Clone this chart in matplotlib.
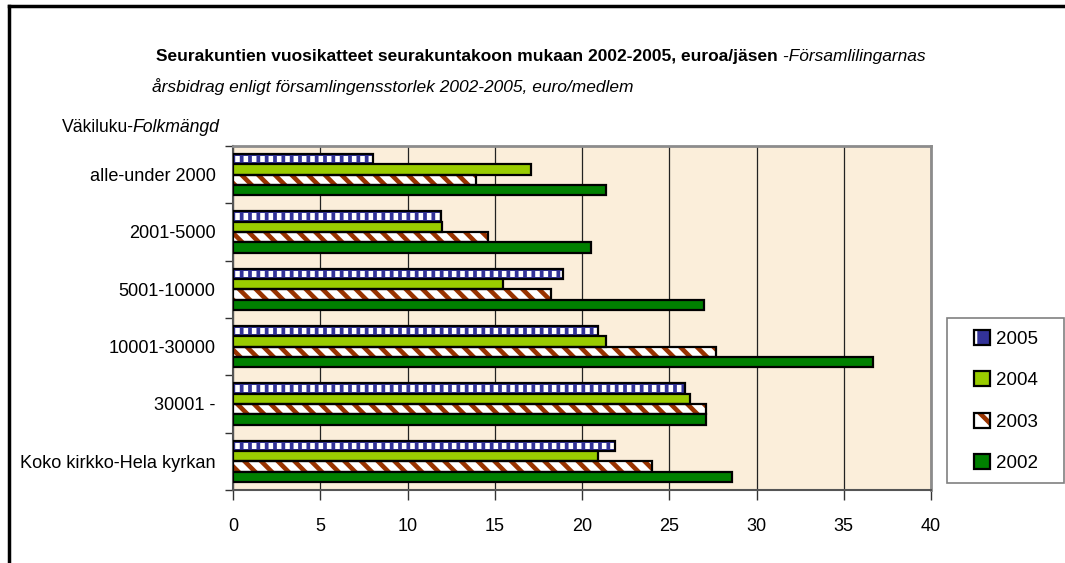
import matplotlib
matplotlib.use("Agg")
import matplotlib.pyplot as plt
import numpy as np
from matplotlib.patches import Patch, Rectangle
from matplotlib.lines import Line2D
from matplotlib import font_manager

# ---------------- data ----------------
categories = ["alle-under 2000", "2001-5000", "5001-10000", "10001-30000",
              "30001 -", "Koko kirkko-Hela kyrkan"]
series_years = ["2005", "2004", "2003", "2002"]
v2005 = [8.0, 11.9, 18.9, 20.9, 25.9, 21.9]
v2004 = [17.1, 12.0, 15.5, 21.4, 26.2, 20.9]
v2003 = [13.9, 14.6, 18.2, 27.7, 27.1, 24.0]
v2002 = [21.4, 20.5, 27.0, 36.7, 27.1, 28.6]
xticks = [0, 5, 10, 15, 20, 25, 30, 35, 40]
title_bold = "Seurakuntien vuosikatteet seurakuntakoon mukaan 2002-2005, euroa/jäsen"
title_ital1 = " -Församlilingarnas"
title_ital2 = "årsbidrag enligt församlingensstorlek 2002-2005, euro/medlem"
ylab_norm = "Väkiluku-"
ylab_ital = "Folkmängd"

# ---------------- fonts ----------------
names = {f.name for f in font_manager.fontManager.ttflist}
fam = "Liberation Sans Narrow" if "Liberation Sans Narrow" in names else "Liberation Sans"
plt.rcParams["font.family"] = [fam, "DejaVu Sans"]
plt.rcParams["hatch.linewidth"] = 3.3

NAVY = "#333399"
LGREEN = "#99CC00"
BROWN = "#993300"
DGREEN = "#008000"
BG = "#FBEEDA"

W, H = 1065, 563
fig = plt.figure(figsize=(W / 100, H / 100), dpi=100)
ax = fig.add_axes([233 / W, 1 - 490 / H, (931 - 233) / W, (490 - 146) / H])
ax.set_facecolor(BG)

y = np.arange(len(categories))
h = 0.18
offs = [-0.27, -0.09, 0.09, 0.27]
lw = 1.6

# 2005: navy with white squares
ax.barh(y + offs[0], v2005, height=h, color=NAVY, linewidth=0, zorder=3)
ax.barh(y + offs[0], v2005, height=h * 0.6, fill=False, hatch="||",
        edgecolor="white", linewidth=0, zorder=4)
ax.barh(y + offs[0], v2005, height=h, fill=False, edgecolor="black",
        linewidth=lw, zorder=5)
# 2004: light green
ax.barh(y + offs[1], v2004, height=h, color=LGREEN, edgecolor="black",
        linewidth=lw, zorder=5)
# 2003: white with brown diagonals
ax.barh(y + offs[2], v2003, height=h, color="white", linewidth=0, zorder=3)
ax.barh(y + offs[2], v2003, height=h, fill=False, hatch="\\\\",
        edgecolor=BROWN, linewidth=0, zorder=4)
ax.barh(y + offs[2], v2003, height=h, fill=False, edgecolor="black",
        linewidth=lw, zorder=5)
# 2002: dark green
ax.barh(y + offs[3], v2002, height=h, color=DGREEN, edgecolor="black",
        linewidth=lw, zorder=5)

ax.set_xlim(0, 40)
ax.set_ylim(len(categories) - 0.5, -0.5)
ax.set_xticks(xticks)
ax.set_xticklabels([str(t) for t in xticks], fontsize=13)
ax.tick_params(axis="x", direction="out", length=7, width=1, color="#333333", pad=13)
ax.set_yticks(np.arange(len(categories) + 1) - 0.5)
ax.set_yticklabels([])
ax.set_yticks(y, minor=True)
ax.set_yticklabels(categories, minor=True, fontsize=13.1)
ax.tick_params(axis="y", which="major", direction="out", length=6, width=1, color="#333333")
ax.tick_params(axis="y", which="minor", length=0, pad=12.5)
ax.grid(axis="x", color="#222222", linewidth=0.9, zorder=1)
ax.set_axisbelow(True)
for s in ["top", "right"]:
    ax.spines[s].set_color("#8c8c8c")
    ax.spines[s].set_linewidth(2)
for s in ["left", "bottom"]:
    ax.spines[s].set_color("#555555")
    ax.spines[s].set_linewidth(1.5)

# legend frame (drawn as a box) + legend content
fig.add_artist(Rectangle((947 / W, 1 - 483 / H), 117 / W, 165 / H,
                         transform=fig.transFigure, facecolor="white",
                         edgecolor="#808080", linewidth=1.2, zorder=1))
hs = [
    (Patch(facecolor=NAVY, linewidth=0),
     Patch(fill=False, hatch="|", edgecolor="white", linewidth=0),
     Patch(fill=False, edgecolor="black", linewidth=1.6)),
    Patch(facecolor=LGREEN, edgecolor="black", linewidth=1.6),
    (Patch(facecolor="white", linewidth=0),
     Patch(fill=False, hatch="\\", edgecolor=BROWN, linewidth=0),
     Patch(fill=False, edgecolor="black", linewidth=1.6)),
    Patch(facecolor=DGREEN, edgecolor="black", linewidth=1.6),
]
leg = fig.legend(hs, series_years, loc="center",
                 bbox_to_anchor=(1006 / W, 1 - 401 / H),
                 bbox_transform=fig.transFigure, fontsize=13.5, frameon=False,
                 labelspacing=1.25, handlelength=0.85, handleheight=0.85,
                 handletextpad=0.35, borderpad=0.3)
leg.set_zorder(2)

# titles
fig.canvas.draw()
r = fig.canvas.get_renderer()
t1 = fig.text(156 / W, 1 - 56 / H, title_bold, fontsize=12.5, fontweight="bold",
              va="center", ha="left")
bb = t1.get_window_extent(r)
fig.text(bb.x1 / W, 1 - 56 / H, title_ital1, fontsize=12.5, style="italic",
         va="center", ha="left")
fig.text(152 / W, 1 - 87 / H, title_ital2, fontsize=12.5, style="italic",
         va="center", ha="left")
t3 = fig.text(62 / W, 1 - 128 / H, ylab_norm, fontsize=12.7, va="center", ha="left")
bb3 = t3.get_window_extent(r)
fig.text((bb3.x1 - 2) / W, 1 - 128 / H, ylab_ital, fontsize=12.7, style="italic",
         va="center", ha="left")

# outer border (top and left)
fig.add_artist(Line2D([9 / W, 1.0], [1 - 6 / H, 1 - 6 / H],
                      transform=fig.transFigure, color="black", linewidth=2.5))
fig.add_artist(Line2D([9 / W, 9 / W], [0, 1 - 6 / H],
                      transform=fig.transFigure, color="black", linewidth=2.5))

fig.savefig("out.png", dpi=100)
